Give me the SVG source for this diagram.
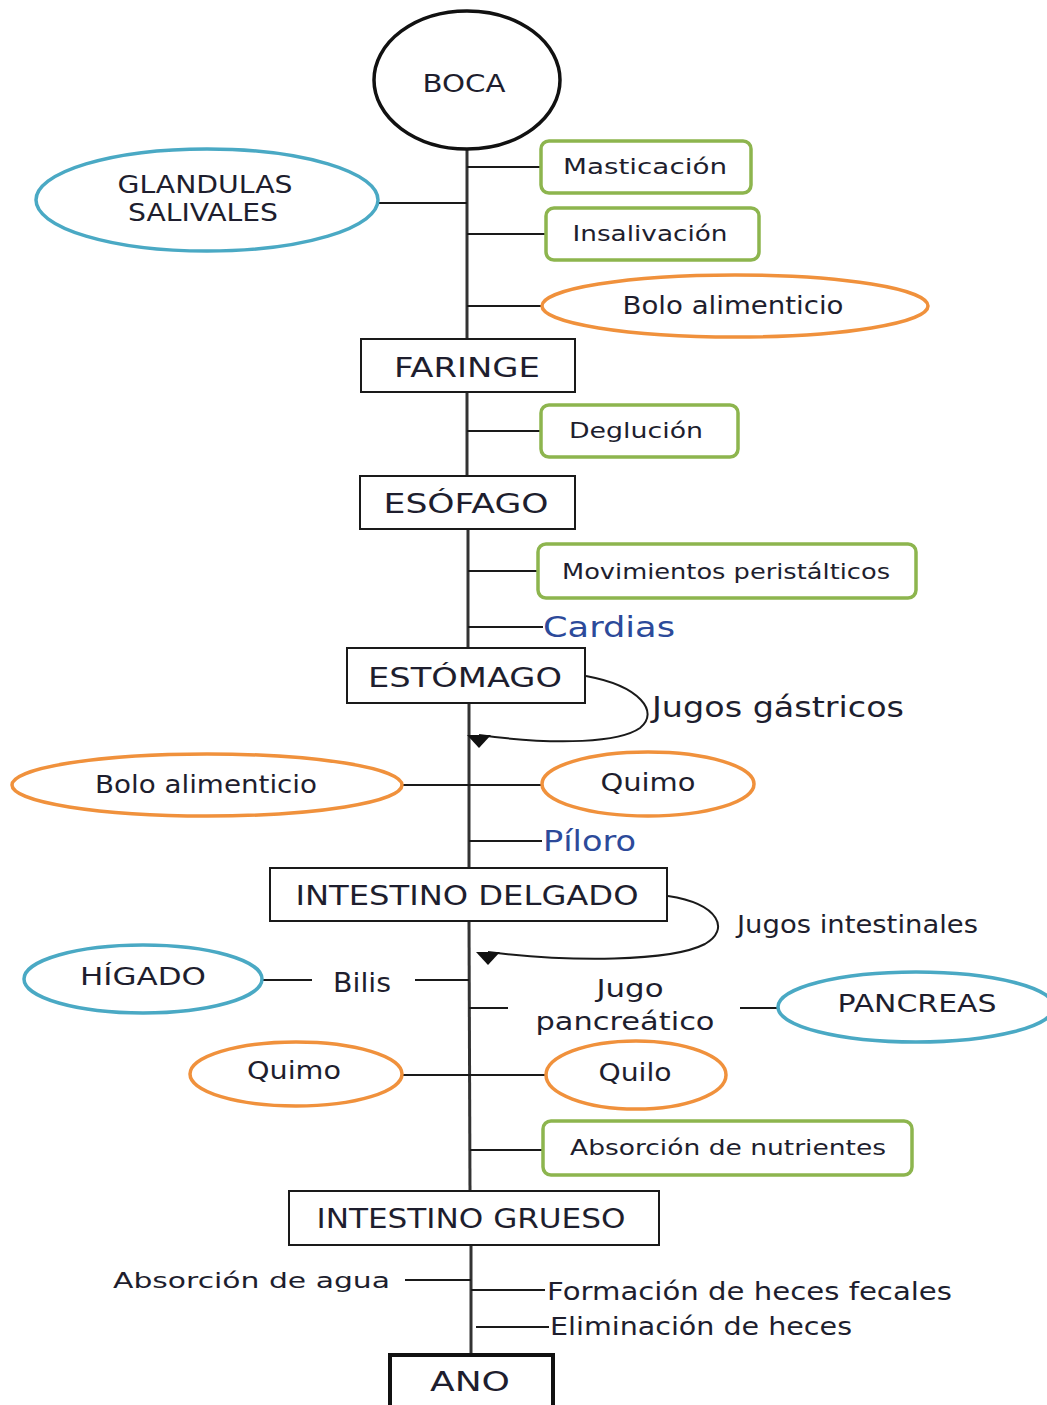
<svg xmlns="http://www.w3.org/2000/svg" width="1047" height="1405" viewBox="0 0 1047 1405">
  <defs>
    <style>
      text { font-family: "DejaVu Sans", "Liberation Sans", sans-serif; fill: #1e1e2e; }
      .organ { fill: #ffffff; stroke: #1a1a1a; stroke-width: 2; }
      .proc { fill: #ffffff; stroke: #8db54e; stroke-width: 3.5; }
      .food { fill: #ffffff; stroke: #f0913c; stroke-width: 3.5; }
      .gland { fill: #ffffff; stroke: #4aa9c4; stroke-width: 3.5; }
      .link { stroke: #1a1a1a; stroke-width: 2; fill: none; }
      .spine { stroke: #333333; stroke-width: 3; fill: none; }
      .blue { fill: #2c4a9a; }
      .c { text-anchor: middle; }
    </style>
    <!-- downward-pointing head used where secretions return to the tract -->
    <marker id="head" viewBox="0 0 24 13" refX="12" refY="0" markerWidth="24" markerHeight="13" orient="0" markerUnits="userSpaceOnUse">
      <path d="M0,0 L24,0 L12,13 Z" fill="#111111"/>
    </marker>
  </defs>

  <!-- connectors -->
  <g id="connectors">
    <!-- main digestive tract -->
    <path class="spine" d="M467,150 L467,339"/>
    <path class="spine" d="M467,392 L467,476"/>
    <path class="spine" d="M468,529 L468,648"/>
    <path class="spine" d="M469,703 L469,868"/>
    <path class="spine" d="M469,921 L470,1191"/>
    <path class="spine" d="M471,1245 L471,1355"/>

    <!-- branches -->
    <path class="link" d="M467,167 H541"/>
    <path class="link" d="M467,234 H546"/>
    <path class="link" d="M467,306 H542"/>
    <path class="link" d="M378,203 H467"/>
    <path class="link" d="M467,431 H541"/>
    <path class="link" d="M468,571 H538"/>
    <path class="link" d="M468,627 H543"/>
    <path class="link" d="M402,785 H542"/>
    <path class="link" d="M469,841 H542"/>
    <path class="link" d="M262,980 H312"/>
    <path class="link" d="M415,980 H469"/>
    <path class="link" d="M469,1008 H508"/>
    <path class="link" d="M740,1008 H778"/>
    <path class="link" d="M402,1075 H546"/>
    <path class="link" d="M470,1150 H543"/>
    <path class="link" d="M405,1280 H471"/>
    <path class="link" d="M471,1290 H545"/>
    <path class="link" d="M476,1327 H549"/>

    <!-- secretion loops -->
    <path class="link" d="M586,676 C640,686 660,712 640,728 C620,742 560,746 479,735" marker-end="url(#head)"/>
    <path class="link" d="M668,896 C720,904 730,930 705,944 C670,962 570,962 488,952" marker-end="url(#head)"/>
  </g>

  <!-- organs -->
  <g id="boca">
    <ellipse cx="467" cy="80" rx="93" ry="69" fill="#ffffff" stroke="#111111" stroke-width="3.5"/>
    <text x="464" y="92" class="c" font-size="24" textLength="83" lengthAdjust="spacingAndGlyphs">BOCA</text>
  </g>
  <g id="faringe">
    <rect class="organ" x="361" y="339" width="214" height="53"/>
    <text x="467" y="377" class="c" font-size="27" textLength="146" lengthAdjust="spacingAndGlyphs">FARINGE</text>
  </g>
  <g id="esofago">
    <rect class="organ" x="360" y="476" width="215" height="53"/>
    <text x="466" y="513" class="c" font-size="27" textLength="165" lengthAdjust="spacingAndGlyphs">ESÓFAGO</text>
  </g>
  <g id="estomago">
    <rect class="organ" x="347" y="648" width="238" height="55"/>
    <text x="465" y="687" class="c" font-size="27" textLength="194" lengthAdjust="spacingAndGlyphs">ESTÓMAGO</text>
  </g>
  <g id="intestino-delgado">
    <rect class="organ" x="270" y="868" width="397" height="53"/>
    <text x="467" y="905" class="c" font-size="27" textLength="343" lengthAdjust="spacingAndGlyphs">INTESTINO DELGADO</text>
  </g>
  <g id="intestino-grueso">
    <rect class="organ" x="289" y="1191" width="370" height="54"/>
    <text x="471" y="1228" class="c" font-size="27" textLength="309" lengthAdjust="spacingAndGlyphs">INTESTINO GRUESO</text>
  </g>
  <g id="ano">
    <rect x="390" y="1355" width="163" height="60" fill="#ffffff" stroke="#111111" stroke-width="4"/>
    <text x="470" y="1391" class="c" font-size="27" textLength="80" lengthAdjust="spacingAndGlyphs">ANO</text>
  </g>

  <!-- glands -->
  <g id="glandulas-salivales">
    <ellipse class="gland" cx="207" cy="200" rx="171" ry="51"/>
    <text x="205" y="193" class="c" font-size="24" textLength="175" lengthAdjust="spacingAndGlyphs">GLANDULAS</text>
    <text x="203" y="221" class="c" font-size="24" textLength="150" lengthAdjust="spacingAndGlyphs">SALIVALES</text>
  </g>
  <g id="higado">
    <ellipse class="gland" cx="143" cy="979" rx="119" ry="34"/>
    <text x="143" y="985" class="c" font-size="24" textLength="126" lengthAdjust="spacingAndGlyphs">HÍGADO</text>
  </g>
  <g id="pancreas">
    <ellipse class="gland" cx="916" cy="1007" rx="138" ry="35"/>
    <text x="917" y="1012" class="c" font-size="24" textLength="159" lengthAdjust="spacingAndGlyphs">PANCREAS</text>
  </g>

  <!-- processes -->
  <g id="masticacion">
    <rect class="proc" x="541" y="141" width="210" height="52" rx="8"/>
    <text x="645" y="174" class="c" font-size="22" textLength="164" lengthAdjust="spacingAndGlyphs">Masticación</text>
  </g>
  <g id="insalivacion">
    <rect class="proc" x="546" y="208" width="213" height="52" rx="8"/>
    <text x="650" y="241" class="c" font-size="22" textLength="155" lengthAdjust="spacingAndGlyphs">Insalivación</text>
  </g>
  <g id="deglucion">
    <rect class="proc" x="541" y="405" width="197" height="52" rx="8"/>
    <text x="636" y="438" class="c" font-size="22" textLength="134" lengthAdjust="spacingAndGlyphs">Deglución</text>
  </g>
  <g id="movimientos-peristalticos">
    <rect class="proc" x="538" y="544" width="378" height="54" rx="8"/>
    <text x="726" y="579" class="c" font-size="22" textLength="328" lengthAdjust="spacingAndGlyphs">Movimientos peristálticos</text>
  </g>
  <g id="absorcion-nutrientes">
    <rect class="proc" x="543" y="1121" width="369" height="54" rx="8"/>
    <text x="728" y="1155" class="c" font-size="22" textLength="316" lengthAdjust="spacingAndGlyphs">Absorción de nutrientes</text>
  </g>

  <!-- food states -->
  <g id="bolo-alimenticio-boca">
    <ellipse class="food" cx="735" cy="306" rx="193" ry="31"/>
    <text x="733" y="314" class="c" font-size="24" textLength="221" lengthAdjust="spacingAndGlyphs">Bolo alimenticio</text>
  </g>
  <g id="bolo-alimenticio-estomago">
    <ellipse class="food" cx="207" cy="785" rx="195" ry="31"/>
    <text x="206" y="793" class="c" font-size="24" textLength="222" lengthAdjust="spacingAndGlyphs">Bolo alimenticio</text>
  </g>
  <g id="quimo-estomago">
    <ellipse class="food" cx="648" cy="784" rx="106" ry="32"/>
    <text x="648" y="791" class="c" font-size="24" textLength="95" lengthAdjust="spacingAndGlyphs">Quimo</text>
  </g>
  <g id="quimo-intestino">
    <ellipse class="food" cx="296" cy="1074" rx="106" ry="32"/>
    <text x="294" y="1079" class="c" font-size="24" textLength="94" lengthAdjust="spacingAndGlyphs">Quimo</text>
  </g>
  <g id="quilo">
    <ellipse class="food" cx="636" cy="1075" rx="90" ry="34"/>
    <text x="635" y="1081" class="c" font-size="24" textLength="73" lengthAdjust="spacingAndGlyphs">Quilo</text>
  </g>

  <!-- free labels -->
  <g id="cardias">
    <text x="543" y="637" class="blue" font-size="28" textLength="132" lengthAdjust="spacingAndGlyphs">Cardias</text>
  </g>
  <g id="jugos-gastricos">
    <text x="652" y="717" font-size="28" textLength="252" lengthAdjust="spacingAndGlyphs">Jugos gástricos</text>
  </g>
  <g id="piloro">
    <text x="543" y="851" class="blue" font-size="28" textLength="93" lengthAdjust="spacingAndGlyphs">Píloro</text>
  </g>
  <g id="jugos-intestinales">
    <text x="737" y="933" font-size="24" textLength="241" lengthAdjust="spacingAndGlyphs">Jugos intestinales</text>
  </g>
  <g id="bilis">
    <text x="333" y="992" font-size="26" textLength="58" lengthAdjust="spacingAndGlyphs">Bilis</text>
  </g>
  <g id="jugo-pancreatico">
    <text x="630" y="997" class="c" font-size="24" textLength="67" lengthAdjust="spacingAndGlyphs">Jugo</text>
    <text x="625" y="1030" class="c" font-size="24" textLength="179" lengthAdjust="spacingAndGlyphs">pancreático</text>
  </g>
  <g id="absorcion-agua">
    <text x="113" y="1288" font-size="22" textLength="277" lengthAdjust="spacingAndGlyphs">Absorción de agua</text>
  </g>
  <g id="formacion-heces">
    <text x="547" y="1300" font-size="24" textLength="405" lengthAdjust="spacingAndGlyphs">Formación de heces fecales</text>
  </g>
  <g id="eliminacion-heces">
    <text x="550" y="1335" font-size="24" textLength="302" lengthAdjust="spacingAndGlyphs">Eliminación de heces</text>
  </g>
</svg>
